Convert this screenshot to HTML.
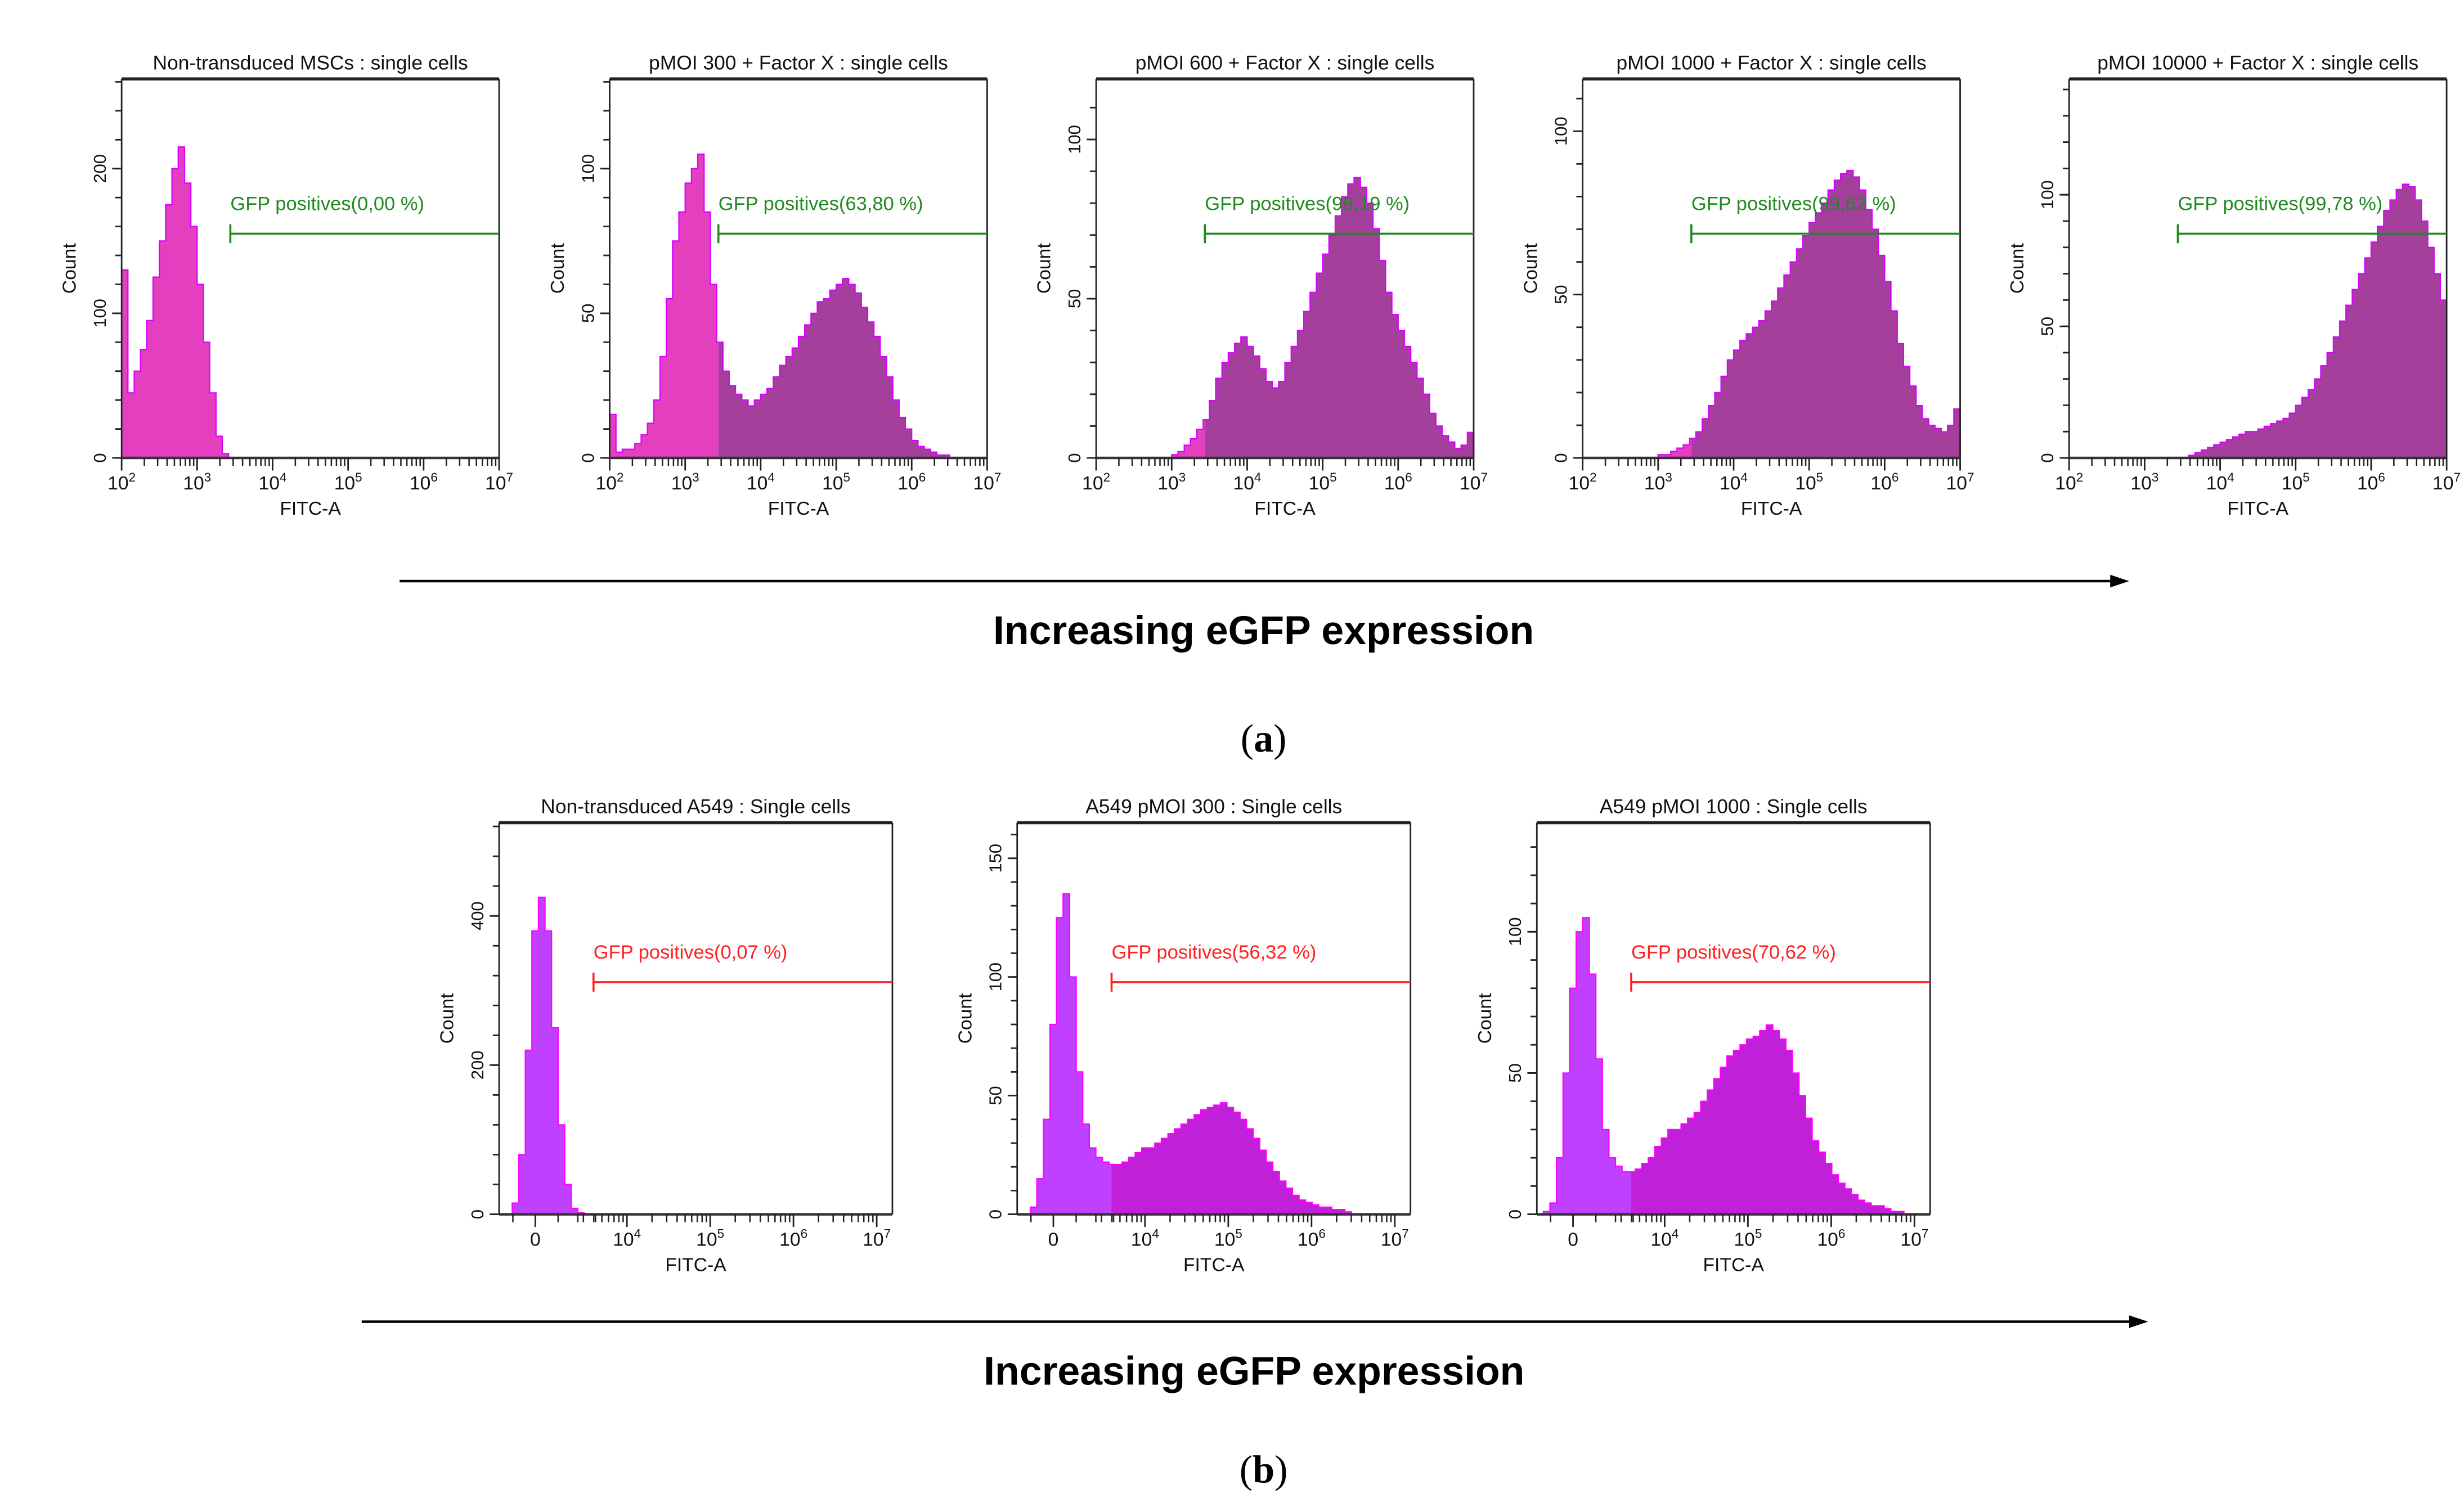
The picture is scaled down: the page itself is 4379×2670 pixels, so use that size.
<!DOCTYPE html>
<html><head><meta charset="utf-8"><style>
html,body{margin:0;padding:0;background:#fff}
svg{display:block}
text{font-family:"Liberation Sans",sans-serif}
</style></head><body>
<svg id="fig" xmlns="http://www.w3.org/2000/svg" width="4379" height="2670" viewBox="0 0 1560 951.2" preserveAspectRatio="none">
<rect x="0" y="0" width="1560" height="951.2" fill="#fff"/>
<g id="plots"></g>
<line x1="253" y1="368" x2="1338" y2="368" stroke="#000" stroke-width="1.6"/>
<polygon points="1348,368 1336,364 1336,372" fill="#000"/>
<text x="800" y="408" text-anchor="middle" font-size="25.5" font-weight="bold">Increasing eGFP expression</text>
<text x="800" y="476" text-anchor="middle" font-size="25" style="font-family:'Liberation Serif',serif">(<tspan font-weight="bold">a</tspan>)</text>
<line x1="229" y1="837" x2="1350" y2="837" stroke="#000" stroke-width="1.6"/>
<polygon points="1360,837 1348,833 1348,841" fill="#000"/>
<text x="794" y="877" text-anchor="middle" font-size="25.5" font-weight="bold">Increasing eGFP expression</text>
<text x="800" y="939" text-anchor="middle" font-size="25" style="font-family:'Liberation Serif',serif">(<tspan font-weight="bold">b</tspan>)</text>
</svg>
<script>
// ---- data: top row (log bins, 60 bins over 10^2..10^7) ----
const topTitles = ["Non-transduced MSCs : single cells","pMOI 300 + Factor X : single cells","pMOI 600 + Factor X : single cells","pMOI 1000 + Factor X : single cells","pMOI 10000 + Factor X : single cells"];
const topGateLabels = ["GFP positives(0,00 %)","GFP positives(63,80 %)","GFP positives(99,19 %)","GFP positives(99,62 %)","GFP positives(99,78 %)"];
const topYMax = [262,131,119,116,144];
const topYTicks = [[0,100,200],[0,50,100],[0,50,100],[0,50,100],[0,50,100]];
const topYMinorStep = [20,10,10,10,10];
const topXTickExp = [2,3,4,5,6,7];
const topGateLog = 3.44;
const top1 = [130,45,60,75,95,125,150,175,200,215,190,160,120,80,45,15,3,0,0,0,0,0,0,0,0,0,0,0,0,0,0,0,0,0,0,0,0,0,0,0,0,0,0,0,0,0,0,0,0,0,0,0,0,0,0,0,0,0,0,0];
const top2 = [15,2,3,3,5,8,12,20,35,55,75,85,95,100,105,85,60,40,30,25,22,20,18,20,22,24,28,32,35,38,42,46,50,54,55,58,60,62,60,57,52,47,42,35,28,20,14,10,6,4,3,2,1,1,0,0,0,0,0,0];
const top3 = [0,0,0,0,0,0,0,0,0,0,0,0,1,2,4,6,9,12,18,25,30,33,36,38,35,32,28,24,22,24,30,35,40,46,52,58,64,70,76,82,86,88,85,80,72,62,52,45,40,35,30,25,20,14,10,7,5,3,4,8];
const top4 = [0,0,0,0,0,0,0,0,0,0,0,0,1,1,2,3,4,6,8,12,16,20,25,30,33,36,38,40,42,45,48,52,56,60,64,68,72,75,78,82,85,87,88,86,82,76,70,62,54,45,35,28,22,16,12,10,9,8,10,15];
const top5 = [0,0,0,0,0,0,0,0,0,0,0,0,0,0,0,0,0,0,0,1,2,3,4,5,6,7,8,9,10,10,11,12,13,14,15,17,20,23,26,30,35,40,46,52,58,64,70,76,82,88,94,98,102,104,103,98,90,80,70,60];
const topSeries = [top1,top2,top3,top4,top5];
// ---- data: bottom row (60 bins over display width, biexponential axis) ----
const botTitles = ["Non-transduced A549 : Single cells","A549 pMOI 300 : Single cells","A549 pMOI 1000 : Single cells"];
const botGateLabels = ["GFP positives(0,07 %)","GFP positives(56,32 %)","GFP positives(70,62 %)"];
const botYMax = [525,165,138.6];
const botYTicks = [[0,200,400],[0,50,100,150],[0,50,100]];
const botYMinorStep = [40,10,10];
const botXTickExp = [4,5,6,7];
const botGateFrac = 0.24;
const bot1 = [0,0,15,80,220,380,425,380,250,120,40,8,2,0,0,0,0,0,0,0,0,0,0,0,0,0,0,0,0,0,0,0,0,0,0,0,0,0,0,0,0,0,0,0,0,0,0,0,0,0,0,0,0,0,0,0,0,0,0,0];
const bot2 = [0,0,3,15,40,80,125,135,100,60,38,28,24,22,21,21,22,24,26,28,28,30,32,34,36,38,40,42,44,45,46,47,45,43,40,36,32,27,22,18,14,11,8,6,5,4,3,3,2,2,1,0,0,0,0,0,0,0,0,0];
const bot3 = [0,1,4,20,50,80,100,105,85,55,30,20,17,15,15,16,18,20,24,27,30,30,32,34,36,40,44,48,52,56,58,60,62,63,65,67,65,62,58,50,42,34,26,22,18,14,11,9,7,5,4,3,3,2,1,1,0,0,0,0];
const botSeries = [bot1,bot2,bot3];

const NS="http://www.w3.org/2000/svg";
const root=document.getElementById('plots');
function mk(tag,attrs,parent){const e=document.createElementNS(NS,tag);for(const k in attrs)e.setAttribute(k,attrs[k]);(parent||root).appendChild(e);return e;}

function drawPanel(o){
  const g=mk('g',{});
  
  
  const L=o.x,T=o.y,W=o.w,H=o.h,B=T+H;
  const ys=v=>B-v/o.ymax*H;
  const n=o.data.length;
  const bx=i=>L+i/n*W;
  let d='M'+L+','+B;
  for(let i=0;i<n;i++){const y=ys(Math.min(o.data[i],o.ymax));d+=' L'+bx(i)+','+y+' L'+bx(i+1)+','+y;}
  d+=' L'+(L+W)+','+B+' Z';
  const gx=o.gateX;
  const cid='c'+o.id;
  const defs=mk('defs',{},g);
  const c1=mk('clipPath',{id:cid+'l'},defs);mk('rect',{x:L,y:T,width:gx-L,height:H},c1);
  const c2=mk('clipPath',{id:cid+'r'},defs);mk('rect',{x:gx,y:T,width:L+W-gx,height:H},c2);
  const h1=mk('path',{d:d,fill:o.c1,'clip-path':'url(#'+cid+'l)'},g);
  
  
  const h2=mk('path',{d:d,fill:o.c2,'clip-path':'url(#'+cid+'r)'},g);
  
  
  const h3=mk('path',{d:d,fill:'none',stroke:o.stroke,'stroke-width':0.8},g);
  
  
  mk('line',{x1:L,y1:T,x2:L+W,y2:T,stroke:'#222','stroke-width':2},g);
  mk('line',{x1:L,y1:T,x2:L,y2:B,stroke:'#222','stroke-width':1},g);
  mk('line',{x1:L+W,y1:T,x2:L+W,y2:B,stroke:'#222','stroke-width':1},g);
  mk('line',{x1:L,y1:B,x2:L+W,y2:B,stroke:'#333','stroke-width':1.6},g);
  const t=mk('text',{x:L+W/2,y:T-6,'text-anchor':'middle','font-size':12.6,fill:'#111'},g);t.textContent=o.title;
  
  
  for(let v=0;v<=o.ymax;v+=o.minor){mk('line',{x1:L-4,y1:ys(v),x2:L,y2:ys(v),stroke:'#222','stroke-width':1},g);}
  o.yticks.forEach(v=>{const y=ys(v);mk('line',{x1:L-6,y1:y,x2:L,y2:y,stroke:'#222','stroke-width':1},g);
    const tl=mk('text',{x:0,y:0,'text-anchor':'middle','font-size':11,transform:'translate('+(L-10)+','+y+') rotate(-90)',fill:'#111'},g);tl.textContent=String(v);
    
    });
  const yl=mk('text',{x:0,y:0,'text-anchor':'middle','font-size':12,transform:'translate('+(L-29)+','+(T+H/2)+') rotate(-90)',fill:'#111'},g);yl.textContent='Count';
  
  
  o.xminor.forEach(x=>mk('line',{x1:x,y1:B,x2:x,y2:B+5,stroke:'#222','stroke-width':0.9},g));
  o.xmajor.forEach(m=>{mk('line',{x1:m.x,y1:B,x2:m.x,y2:B+8,stroke:'#222','stroke-width':1},g);
    const tl=mk('text',{x:m.x,y:B+20,'text-anchor':'middle','font-size':12,fill:'#111'},g);
    
    
    if(m.e===null){tl.textContent='0';}else{tl.textContent='10';const s=mk('tspan',{'font-size':8,dy:-5},tl);s.textContent=String(m.e);}});
  const xl=mk('text',{x:L+W/2,y:B+36,'text-anchor':'middle','font-size':12,fill:'#111'},g);xl.textContent='FITC-A';
  
  
  const gl=mk('line',{x1:gx,y1:o.gateY,x2:L+W,y2:o.gateY,stroke:o.gateColor,'stroke-width':1.3},g);
  
  
  mk('line',{x1:gx,y1:o.gateY-6,x2:gx,y2:o.gateY+6,stroke:o.gateColor,'stroke-width':1.3},g);
  const gt=mk('text',{x:gx,y:o.gateY-15,'font-size':12.3,fill:o.gateColor},g);gt.textContent=o.gateLabel;
  
  
}

const topLeft=[77,386,694,1002,1310];
topSeries.forEach((data,k)=>{
  const L=topLeft[k],W=239;
  const xs=lg=>L+(lg-2)/5*W;
  const major=topXTickExp.map(e=>({x:xs(e),e:e}));
  const minor=[];for(let e=2;e<7;e++)for(let m=2;m<10;m++)minor.push(xs(e+Math.log10(m)));
  drawPanel({id:'t'+k,name:'histogram-panel-top-'+(k+1),x:L,y:50,w:W,h:240,ymax:topYMax[k],yticks:topYTicks[k],minor:topYMinorStep[k],
    data:data,gateX:xs(topGateLog),gateY:148,gateLabel:topGateLabels[k],gateColor:'#1f8a1f',title:topTitles[k],
    c1:'#e33fbf',c2:'#a53f9c',stroke:'#d800ff',xmajor:major,xminor:minor});
});
const botLeft=[316,644,973];
botSeries.forEach((data,k)=>{
  const L=botLeft[k],W=249;
  const fx=lg=>0.325+(lg-4)*0.2117;
  const xs=f=>L+f*W;
  const major=[{x:xs(0.092),e:null}].concat(botXTickExp.map(e=>({x:xs(fx(e)),e:e})));
  const minor=[xs(0.035),xs(0.15),xs(0.2),xs(0.245)];
  for(let e=3;e<7;e++)for(let m=2;m<10;m++){const lg=e+Math.log10(m);if(lg>3.45)minor.push(xs(fx(lg)));}
  drawPanel({id:'b'+k,name:'histogram-panel-bottom-'+(k+1),x:L,y:521,w:W,h:248,ymax:botYMax[k],yticks:botYTicks[k],minor:botYMinorStep[k],
    data:data,gateX:xs(botGateFrac),gateY:622,gateLabel:botGateLabels[k],gateColor:'#ff2020',title:botTitles[k],
    c1:'#c040ff',c2:'#c020d8',stroke:'#ff00ff',xmajor:major,xminor:minor});
});
</script>
</body></html>
